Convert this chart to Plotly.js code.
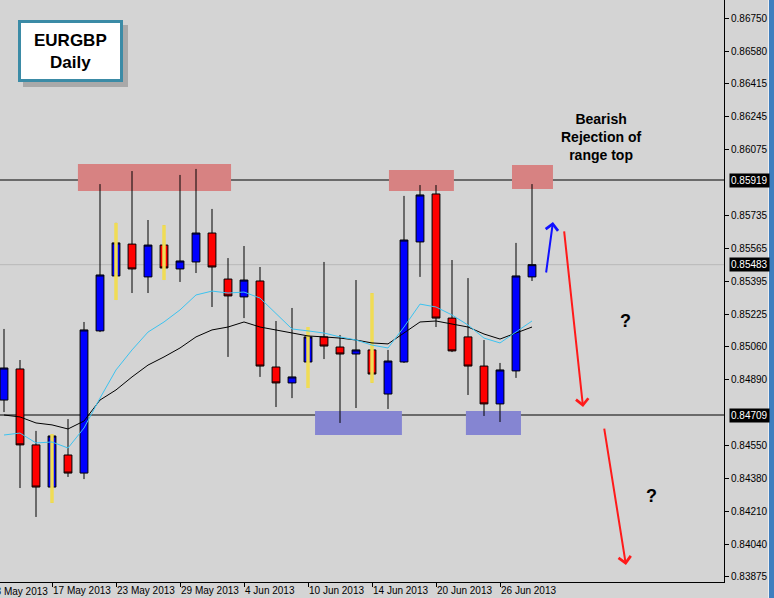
<!DOCTYPE html>
<html><head><meta charset="utf-8">
<script src="https://cdn.plot.ly/plotly-3.0.1.min.js"></script>
<style>html,body{margin:0;padding:0;background:#d4d4d4;overflow:hidden}#chart{width:774px;height:598px;}</style>
</head><body><div id="chart"></div>
<script>
// ---- data (EURGBP daily) ----
const dates = ["14 May","15 May","16 May","17 May","20 May","21 May","22 May","23 May","24 May","27 May","28 May","29 May","30 May","31 May","3 Jun","4 Jun","5 Jun","6 Jun","7 Jun","10 Jun","11 Jun","12 Jun","13 Jun","14 Jun","17 Jun","18 Jun","19 Jun","20 Jun","21 Jun","24 Jun","25 Jun","26 Jun","27 Jun","28 Jun"];
const open  = [0.84786,0.84946,0.84555,0.84338,0.84503,0.84410,0.85142,0.85425,0.85589,0.85420,0.85584,0.85461,0.85497,0.85646,0.85409,0.85317,0.85399,0.84956,0.84874,0.84982,0.85111,0.85059,0.85023,0.85044,0.84817,0.84982,0.85600,0.85847,0.85208,0.85111,0.84961,0.84766,0.84936,0.85420];
const high  = [0.85152,0.84992,0.84627,0.84611,0.84688,0.85188,0.85898,0.85698,0.85965,0.85713,0.85687,0.85945,0.85976,0.85770,0.85517,0.85579,0.85471,0.85193,0.85260,0.85162,0.85497,0.85121,0.85404,0.85337,0.85044,0.85837,0.85893,0.85893,0.85507,0.85414,0.85095,0.84977,0.85595,0.85898];
const low   = [0.84724,0.84333,0.84184,0.84256,0.84390,0.84379,0.85136,0.85301,0.85337,0.85337,0.85404,0.85394,0.85440,0.85265,0.85008,0.85208,0.84905,0.84750,0.84796,0.84848,0.84997,0.84668,0.84745,0.84874,0.84740,0.84977,0.85420,0.85162,0.85033,0.84812,0.84704,0.84673,0.84900,0.85399];
const close = [0.84951,0.84555,0.84338,0.84601,0.84410,0.85147,0.85430,0.85595,0.85461,0.85584,0.85466,0.85502,0.85646,0.85471,0.85322,0.85404,0.84961,0.84874,0.84905,0.85111,0.85064,0.85023,0.85044,0.84920,0.84987,0.85610,0.85842,0.85208,0.85039,0.84961,0.84766,0.84941,0.85425,0.85483];
const maSlow = [0.84709,0.84699,0.84668,0.84658,0.84637,0.84678,0.84786,0.84838,0.84905,0.84966,0.85008,0.85054,0.85111,0.85147,0.85162,0.85188,0.85162,0.85147,0.85131,0.85116,0.85111,0.85105,0.85095,0.85080,0.85075,0.85131,0.85188,0.85193,0.85178,0.85162,0.85126,0.85100,0.85131,0.85162];
const maFast = [0.84606,0.84616,0.84565,0.84570,0.84539,0.84642,0.84796,0.84941,0.85044,0.85136,0.85188,0.85250,0.85327,0.85347,0.85337,0.85342,0.85311,0.85234,0.85152,0.85142,0.85131,0.85111,0.85095,0.85069,0.85054,0.85162,0.85280,0.85265,0.85224,0.85172,0.85105,0.85080,0.85136,0.85193];
const markedBars = ["17 May","23 May","28 May","10 Jun","14 Jun"];
const tickDates = ["13 May","17 May","23 May","29 May","4 Jun","10 Jun","14 Jun","20 Jun","26 Jun"];
const tickLabels = ["13 May 2013","17 May 2013","23 May 2013","29 May 2013","4 Jun 2013","10 Jun 2013","14 Jun 2013","20 Jun 2013","26 Jun 2013"];
const priceTicks = [0.86750,0.86580,0.86415,0.86245,0.86075,0.85735,0.85565,0.85395,0.85225,0.85060,0.84890,0.84550,0.84380,0.84210,0.84040,0.83875];
const rangeLevels = [0.85919,0.84709];
const lastPrice = 0.85483;

// ---- build ----
const xs = dates.map((d,i)=>i);
const idxOf = d => { const k = dates.indexOf(d); return k >= 0 ? k : dates.indexOf("14 May") - 1; };
const XR = [-0.25, 45];
const YR = [0.838491, 0.868458];
const FONT = 'Liberation Sans, Arial, sans-serif';

const yx = [], yy = [];
markedBars.forEach(d => { const i = idxOf(d); yx.push(i,i,null); yy.push(high[i],low[i],null); });

const traces = [
  {type:'candlestick', x:xs, open:open, high:high, low:low, close:close,
   increasing:{line:{color:'#000000',width:1}, fillcolor:'#0000ff'},
   decreasing:{line:{color:'#000000',width:1}, fillcolor:'#ff0000'},
   whiskerwidth:0, hoverinfo:'skip', showlegend:false},
  {type:'scatter', mode:'lines', x:yx, y:yy, line:{color:'#f0dc55',width:3.5}, hoverinfo:'skip', showlegend:false, connectgaps:false},
  {type:'scatter', mode:'lines', x:xs, y:maSlow, line:{color:'#000000',width:1}, hoverinfo:'skip', showlegend:false},
  {type:'scatter', mode:'lines', x:xs, y:maFast, line:{color:'#3cc3f0',width:1}, hoverinfo:'skip', showlegend:false}
];

const visTicks = tickDates.map(idxOf);
const W = 724;
const shapes = [
  {type:'rect', xref:'x', yref:'y', x0:4.62, x1:14.19, y0:0.85862, y1:0.86001, fillcolor:'#d78282', line:{width:0}, layer:'below'},
  {type:'rect', xref:'x', yref:'y', x0:24.06, x1:28.12, y0:0.85862, y1:0.85970, fillcolor:'#d78282', line:{width:0}, layer:'below'},
  {type:'rect', xref:'x', yref:'y', x0:31.75, x1:34.31, y0:0.85873, y1:0.85996, fillcolor:'#d78282', line:{width:0}, layer:'below'},
  {type:'rect', xref:'x', yref:'y', x0:19.44, x1:24.87, y0:0.84606, y1:0.84730, fillcolor:'#8585d2', line:{width:0}, layer:'below'},
  {type:'rect', xref:'x', yref:'y', x0:28.87, x1:32.31, y0:0.84606, y1:0.84730, fillcolor:'#8585d2', line:{width:0}, layer:'below'},
  {type:'line', xref:'paper', yref:'y', x0:0, x1:1, y0:lastPrice, y1:lastPrice, line:{color:'#b9b9b9',width:1}, layer:'below'},
  {type:'rect', xref:'paper', yref:'paper', xsizemode:'pixel', ysizemode:'pixel', xanchor:0, yanchor:1, x0:23, x1:128, y0:-25, y1:-87, fillcolor:'#a9a9a9', line:{width:0}},
  {type:'rect', xref:'paper', yref:'paper', xsizemode:'pixel', ysizemode:'pixel', xanchor:0, yanchor:1, x0:19.5, x1:121.5, y0:-21.5, y1:-80.5, fillcolor:'#ffffff', line:{color:'#3b8ba6',width:3}},
  {type:'rect', xref:'paper', yref:'paper', xsizemode:'pixel', ysizemode:'pixel', xanchor:0, yanchor:1, x0:769, x1:780, y0:5, y1:-610, fillcolor:'#3f7fbf', line:{width:0}},
  {type:'rect', xref:'paper', yref:'paper', xsizemode:'pixel', ysizemode:'pixel', xanchor:0, yanchor:1, x0:768, x1:769, y0:5, y1:-610, fillcolor:'#eeeeee', line:{width:0}}
];
rangeLevels.forEach(v => shapes.push({type:'line', xref:'paper', yref:'y', x0:0, x1:1, y0:v, y1:v, line:{color:'#000000',width:1}, layer:'below'}));

const ann = [];
const firstTick = idxOf(tickDates[0]);
ann.push({xref:'paper', yref:'paper', x:(firstTick - XR[0])/(XR[1]-XR[0]), y:0, yshift:-2, xanchor:'left', yanchor:'top', showarrow:false,
  text:tickLabels[0], font:{family:FONT, size:10, color:'#000'}});
rangeLevels.concat([lastPrice]).forEach(v => ann.push({xref:'paper', yref:'y', x:1, y:v, xanchor:'left', yanchor:'middle', xshift:5, showarrow:false,
  text:v.toFixed(5), bgcolor:'#000000', borderpad:1, font:{family:FONT, size:10, color:'#ffffff'}}));
ann.push({xref:'paper', yref:'paper', x:70.5/W, y:1-51/582, xanchor:'center', yanchor:'middle', showarrow:false,
  text:'<b>EURGBP</b><br><b>Daily</b>', font:{family:FONT, size:17, color:'#000'}});
ann.push({xref:'paper', yref:'paper', x:601/W, y:1-137/582, xanchor:'center', yanchor:'middle', showarrow:false,
  text:'<b>Bearish</b><br><b>Rejection of</b><br><b>range top</b>', font:{family:FONT, size:14, color:'#000'}});
ann.push({xref:'paper', yref:'paper', x:625/W, y:1-321/582, xanchor:'center', yanchor:'middle', showarrow:false,
  text:'<b>?</b>', font:{family:FONT, size:18, color:'#000'}});
ann.push({xref:'paper', yref:'paper', x:651/W, y:1-496/582, xanchor:'center', yanchor:'middle', showarrow:false,
  text:'<b>?</b>', font:{family:FONT, size:18, color:'#000'}});
ann.push({xref:'x', yref:'y', axref:'x', ayref:'y', x:34.31, y:0.85703, ax:33.87, ay:0.85435, text:'', showarrow:true, arrowhead:4, arrowsize:1.2, arrowwidth:2, arrowcolor:'#1010ff', standoff:0});
ann.push({xref:'x', yref:'y', axref:'x', ayref:'y', x:36.19, y:0.84750, ax:35.0, ay:0.85662, text:'', showarrow:true, arrowhead:4, arrowsize:1.2, arrowwidth:2, arrowcolor:'#ff1a1a', standoff:0});
ann.push({xref:'x', yref:'y', axref:'x', ayref:'y', x:38.87, y:0.83937, ax:37.5, ay:0.84647, text:'', showarrow:true, arrowhead:4, arrowsize:1.2, arrowwidth:2, arrowcolor:'#ff1a1a', standoff:0});

const layout = {
  width:774, height:598,
  margin:{l:0, r:50, t:0, b:16, pad:0},
  paper_bgcolor:'#d4d4d4', plot_bgcolor:'#d4d4d4',
  showlegend:false, dragmode:false, hovermode:false,
  xaxis:{range:XR, rangeslider:{visible:false}, showgrid:false, zeroline:false,
    showline:true, linecolor:'#000', linewidth:1,
    tickmode:'array', tickvals:visTicks.slice(1), ticktext:tickLabels.slice(1),
    ticks:'outside', ticklen:4, tickcolor:'#000', ticklabelposition:'outside right', tickangle:0,
    ticklabelstandoff:-1,
    tickfont:{family:FONT, size:10, color:'#000'}},
  yaxis:{range:YR, side:'right', showgrid:false, zeroline:false,
    showline:true, linecolor:'#000', linewidth:1,
    tickmode:'array', tickvals:priceTicks, ticktext:priceTicks.map(v=>v.toFixed(5)),
    ticks:'outside', ticklen:4, tickcolor:'#000',
    tickfont:{family:FONT, size:10, color:'#000'}},
  shapes:shapes, annotations:ann
};
Plotly.newPlot('chart', traces, layout, {staticPlot:true, displayModeBar:false});
</script></body></html>
